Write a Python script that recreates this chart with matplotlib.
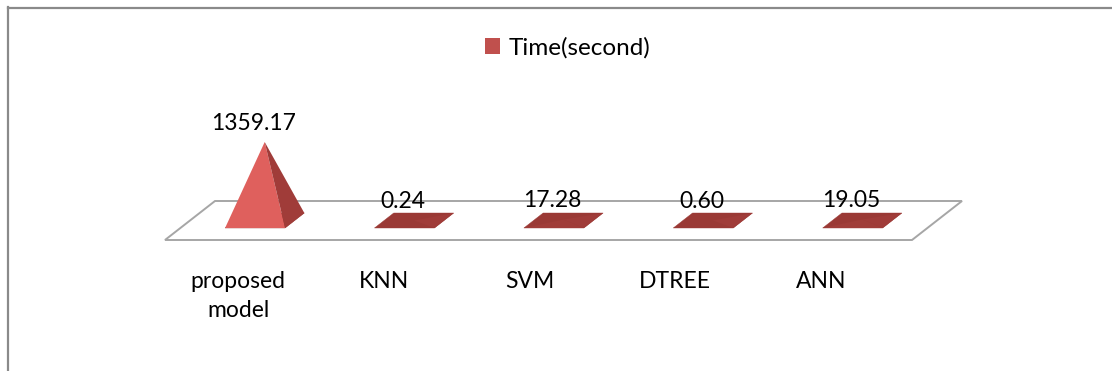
import matplotlib
matplotlib.use("Agg")
import matplotlib.pyplot as plt
from matplotlib.patches import Polygon, Patch
from matplotlib.lines import Line2D
import numpy as np

# ---- data ----
categories = ["proposed\nmodel", "KNN", "SVM", "DTREE", "ANN"]
times = [1359.17, 0.24, 17.28, 0.60, 19.05]
value_labels = ["1359.17", "0.24", "17.28", "0.60", "19.05"]
series_name = "Time(second)"

# ---- figure ----
W, H, DPI = 1112, 371, 100
plt.rcParams["font.family"] = ["Lato", "DejaVu Sans"]
FS = 16.5

fig = plt.figure(figsize=(W / DPI, H / DPI), dpi=DPI)
ax = fig.add_axes([0, 0, 1, 1])
ax.set_axis_off()

# oblique 3-D layout (pixel measures)
SLOT_PX = 149.4          # width of one category slot
FLOOR_LEFT_PX = 190.0    # left edge of floor at mid depth
ZERO_PX = 220.5          # value 0 at mid depth, from top
AXIS_MAX = 1400.0
AXIS_PX = 80.86          # height of the value axis
SHEAR = 50.0 / 39.0      # horizontal shift per pixel of depth
FLOOR_DEPTH = 19.5       # half depth of the floor
BAR_DEPTH = 7.5          # half depth of a pyramid base
BAR_HALF_W = 30.0 / SLOT_PX
PT = 72.0 / DPI          # points per pixel

px_per_unit = AXIS_PX / AXIS_MAX
x_left = -0.5 - FLOOR_LEFT_PX / SLOT_PX
ax.set_xlim(x_left, x_left + W / SLOT_PX)
ax.set_ylim(-(H - ZERO_PX) / px_per_unit, ZERO_PX / px_per_unit)


def obl(x, v, depth):
    """Project (category x, value v, depth in px; + is backwards) to data."""
    return (x + depth * SHEAR / SLOT_PX, v + depth / px_per_unit)


def mix(c1, c2, t):
    a = np.array(matplotlib.colors.to_rgb(c1))
    b = np.array(matplotlib.colors.to_rgb(c2))
    return tuple(a + (b - a) * t)


LIGHT = "#e0605d"
DARK = "#a03c39"
TOP = "#9a3935"

n = len(categories)
idx = np.arange(n)

# floor
floor = Polygon([obl(-0.5, 0, -FLOOR_DEPTH), obl(n - 0.5, 0, -FLOOR_DEPTH),
                 obl(n - 0.5, 0, FLOOR_DEPTH), obl(-0.5, 0, FLOOR_DEPTH)],
                closed=True, fill=False, edgecolor="#a6a6a6", lw=1.4, zorder=1)
ax.add_patch(floor)

# pyramids
real_depth = BAR_DEPTH * 1.6
for i, v in zip(idx, times):
    fl = obl(i - BAR_HALF_W, 0, -BAR_DEPTH)
    fr = obl(i + BAR_HALF_W, 0, -BAR_DEPTH)
    br = obl(i + BAR_HALF_W, 0, BAR_DEPTH)
    bl = obl(i - BAR_HALF_W, 0, BAR_DEPTH)
    apex = obl(i, v, 0)
    h = v * px_per_unit
    facing = h / np.hypot(h, real_depth)
    ax.add_patch(Polygon([fl, fr, br, bl], closed=True, facecolor=TOP,
                         edgecolor=TOP, lw=0.3, zorder=2))
    ax.add_patch(Polygon([fl, fr, apex], closed=True,
                         facecolor=mix(TOP, LIGHT, facing),
                         lw=0, zorder=3))
    ax.add_patch(Polygon([fr, br, apex], closed=True, facecolor=DARK,
                         lw=0, zorder=3))
    # value label above the front of the pyramid
    ax.annotate(value_labels[i], xy=obl(i, v, -BAR_DEPTH),
                xytext=(-1.5 * PT, 19.7 * PT),
                textcoords="offset points", ha="center", va="baseline",
                fontsize=FS, color="black", zorder=5)

# category labels along the front of the floor
LABEL_SPREAD = 0.975
for i, lab in zip(idx, categories):
    xl = 2 + (i - 2) * LABEL_SPREAD
    ax.annotate(lab, xy=obl(xl, 0, -FLOOR_DEPTH),
                xytext=(-9.1 * PT, -31 * PT),
                textcoords="offset points", ha="center", va="top",
                multialignment="center", linespacing=1.45,
                fontsize=FS, color="black", zorder=5)

# legend
LEG_FS = 17.5
leg = ax.legend(handles=[Patch(facecolor="#c0504d", edgecolor="none")],
                labels=[series_name], loc="center left",
                bbox_to_anchor=(485 / W, 1 - 48 / H),
                bbox_transform=fig.transFigure, frameon=False,
                fontsize=LEG_FS, handlelength=15 * PT / LEG_FS,
                handleheight=15 * PT / LEG_FS,
                handletextpad=0.35, borderpad=0, borderaxespad=0)

# chart area border (left and top edges)
fig.add_artist(Line2D([7.5 / W, 7.5 / W], [0, 1 - 7 / H],
                      transform=fig.transFigure, color="#8a8a8a", lw=1.6))
fig.add_artist(Line2D([7.5 / W, 1], [1 - 8 / H, 1 - 8 / H],
                      transform=fig.transFigure, color="#8a8a8a", lw=1.6))

fig.savefig("out.png", dpi=DPI, facecolor="white")
